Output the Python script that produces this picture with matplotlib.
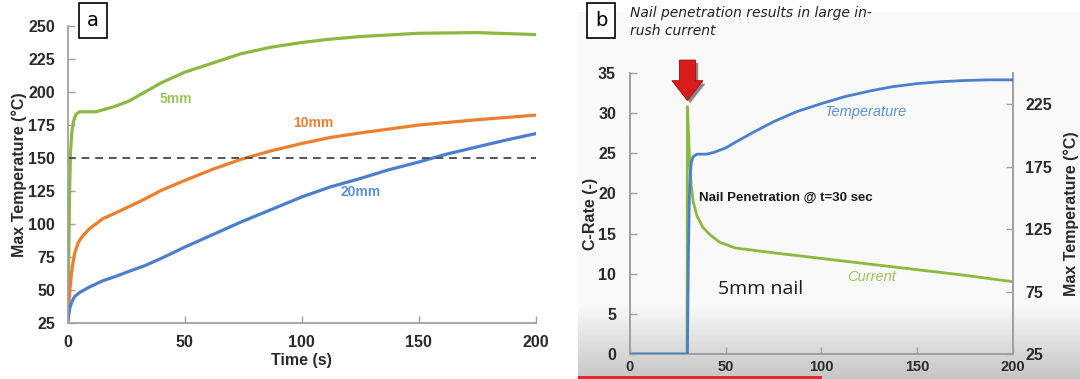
import numpy as np
import matplotlib
matplotlib.use("Agg")
import matplotlib.pyplot as plt
import matplotlib.patheffects as pe
from matplotlib.patches import Rectangle

# ---- panel a: max temperature vs time for three nail diameters ----
t_5mm = [0, 0.4, 0.8, 1.2, 1.8, 2.5, 3.5, 5, 8, 12, 16, 20, 26, 32, 40, 50,
         62, 74, 87, 100, 112, 125, 150, 175, 200]
temp_5mm = [28, 70, 125, 155, 170, 178, 183, 185, 185, 185, 187, 189, 193, 199,
            207, 215, 222, 229, 234, 237.5, 240, 242, 244.5, 245, 243.5]

t_10mm = [0, 0.5, 1, 2, 3, 4.5, 6, 9, 15, 20, 26, 33, 40, 50, 62, 74, 87,
          100, 112, 125, 150, 175, 200]
temp_10mm = [30, 40, 52, 68, 78, 86, 90, 96, 104, 108, 113, 119, 125.5, 133,
             141.5, 149, 155.5, 161, 165.5, 169, 175, 179, 182.5]

t_20mm = [0, 0.5, 1, 2, 3, 5, 9, 15, 20, 26, 33, 40, 50, 62, 74, 87, 100,
          112, 125, 137, 150, 162, 175, 187, 200]
temp_20mm = [25, 32, 37, 42, 45, 48, 52, 57, 60, 64, 68.5, 74, 82.5, 92, 101.5,
             111, 120.5, 128, 134.5, 141, 147, 153, 158.5, 163.5, 168.5]

threshold = 150

# ---- panel b: 5mm nail, C-rate and temperature ----
t_temp_b = [0, 30, 30.5, 31, 31.5, 32, 33, 35, 40, 44, 50, 55, 65, 75, 87,
            100, 112, 125, 137, 150, 162, 175, 187, 200]
temp_b = [25, 25, 100, 150, 168, 178, 183, 185, 185, 186.5, 190, 194.5, 203,
          211, 219, 225.5, 231, 235.5, 239, 241.5, 243, 244, 244.5, 244.5]

t_cur_b = [0, 29.8, 30, 31, 32, 33, 35, 38, 42, 47, 55, 75, 100, 125, 150,
           175, 200]
crate_b = [0, 0, 30.8, 25, 21, 19, 17.2, 15.8, 14.8, 13.9, 13.2, 12.6, 11.9,
           11.2, 10.5, 9.8, 9.0]

GREEN = "#8cb83f"
ORANGE = "#ee7d2e"
BLUE = "#4a7fd0"
SPINE = "#a0a0a0"
TICKTXT = "#2a2a2a"

plt.rcParams["font.family"] = ["Liberation Sans", "DejaVu Sans"]

fig = plt.figure(figsize=(10.8, 3.79), dpi=100)
fig.patch.set_facecolor("white")


def style_axes(ax, spines):
    for s in ["top", "right", "left", "bottom"]:
        ax.spines[s].set_visible(s in spines)
        ax.spines[s].set_color(SPINE)
        ax.spines[s].set_linewidth(1.3)
    ax.tick_params(direction="in", length=5, width=1, color=SPINE,
                   labelsize=11.5, labelcolor=TICKTXT)
    for lab in ax.get_xticklabels() + ax.get_yticklabels():
        lab.set_fontweight("bold")


# ---------------- panel a ----------------
ax = fig.add_axes([0.0627, 0.1478, 0.4336, 0.7836])
ax.set_facecolor("none")
ax.plot(t_5mm, temp_5mm, color=GREEN, lw=2.3, solid_capstyle="round")
ax.plot(t_10mm, temp_10mm, color=ORANGE, lw=2.3, solid_capstyle="round")
ax.plot(t_20mm, temp_20mm, color=BLUE, lw=2.3, solid_capstyle="round")
ax.axhline(threshold, color="#555555", lw=1.4, dashes=(4, 3))
ax.set_xlim(0, 200)
ax.set_ylim(25, 250)
ax.set_xticks([0, 50, 100, 150, 200])
ax.set_yticks(np.arange(25, 251, 25))
ax.tick_params(axis="x", pad=9)
ax.tick_params(axis="y", pad=9)
style_axes(ax, ["left", "bottom"])
ax.set_xlabel("Time (s)", fontsize=11.5, fontweight="bold", color=TICKTXT,
              labelpad=2)
ax.set_ylabel("Max Temperature (°C)", fontsize=11.5, fontweight="bold",
              color=TICKTXT, labelpad=1)
ax.text(46, 195, "5mm", color="#9cc25a", fontsize=10, fontweight="bold",
        ha="center", va="center")
ax.text(105, 176.5, "10mm", color=ORANGE, fontsize=10, fontweight="bold",
        ha="center", va="center")
ax.text(125, 124, "20mm", color="#5b8fdc", fontsize=10, fontweight="bold",
        ha="center", va="center")

# panel letter box "a"
fig.patches.append(Rectangle((79 / 1080, 1 - 38 / 379), 28 / 1080, 35 / 379,
                             transform=fig.transFigure, fc="white",
                             ec="black", lw=1.2))
fig.text(93 / 1080, 1 - 20.5 / 379, "a", fontsize=14, family="DejaVu Sans",
         ha="center", va="center")

# ---------------- panel b background (screen-capture look) ----------------
bg = fig.add_axes([578 / 1080, 0, 1 - 578 / 1080, 1 - 12 / 379], zorder=-5)
grad = np.ones((200, 2))
yy = np.linspace(0, 1, 200)[:, None]
shade = np.where(yy < 0.80, 0.975, 0.975 - (yy - 0.80) / 0.20 * 0.2)
bg.imshow(shade * grad, cmap="gray", vmin=0, vmax=1, aspect="auto",
          extent=[0, 1, 0, 1], origin="upper")
bg.set_axis_off()
fig.patches.append(Rectangle((578 / 1080, 0), (822 - 578) / 1080, 3 / 379,
                             transform=fig.transFigure, fc="#e8262a",
                             ec="none", zorder=5))

# ---------------- panel b ----------------
axb = fig.add_axes([0.5833, 0.0660, 0.3546, 0.7414])
axb.set_facecolor("none")
axb2 = axb.twinx()
axb2.plot(t_temp_b, temp_b, color=BLUE, lw=2.0, zorder=3)
axb.plot(t_cur_b, crate_b, color=GREEN, lw=2.0, zorder=2)
axb.set_xlim(0, 200)
axb.set_ylim(0, 35)
axb2.set_ylim(25, 250)
axb.set_xticks([0, 50, 100, 150, 200])
axb.set_yticks(np.arange(0, 36, 5))
axb2.set_yticks([25, 75, 125, 175, 225])
axb.tick_params(axis="x", pad=4)
axb.tick_params(axis="y", pad=10)
axb2.tick_params(axis="y", pad=9)
style_axes(axb, ["left", "bottom", "right"])
style_axes(axb2, ["left", "bottom", "right"])
axb.tick_params(axis="x", labelsize=10.5)
axb.set_ylabel("C-Rate (-)", fontsize=11.5, fontweight="bold",
               color=TICKTXT, labelpad=0)
axb2.set_ylabel("Max Temperature (°C)", fontsize=11.5, fontweight="bold",
                color=TICKTXT, labelpad=8)

axb2.text(123, 219, "Temperature", color="#5b8fdc", fontsize=10.5,
          style="italic", ha="center", va="center")
axb.text(126, 9.6, "Current", color="#9cc25a", fontsize=10.5,
         style="italic", ha="center", va="center")
axb.text(36, 19.5, "Nail Penetration @ t=30 sec", color="#1a1a1a",
         fontsize=9.5, fontweight="bold", ha="left", va="center")
axb.text(46, 8.1, "5mm nail", color="#1a1a1a", fontsize=14,
         family="Open Sans", ha="left", va="center")

# red arrow pointing at the current spike
axb.annotate("", xy=(30, 31.6), xytext=(30, 36.6), annotation_clip=False,
             arrowprops=dict(arrowstyle="simple,head_width=1.1,head_length=0.7,tail_width=0.58",
                             mutation_scale=20, fc="#d81b1b", ec="#b01010",
                             lw=0.5, shrinkA=0, shrinkB=0,
                             path_effects=[pe.withSimplePatchShadow(
                                 offset=(2, -2), shadow_rgbFace="#555555",
                                 alpha=0.7), pe.Normal()]))

# panel letter box "b" and heading
fig.patches.append(Rectangle((587 / 1080, 1 - 38 / 379), 28 / 1080, 35 / 379,
                             transform=fig.transFigure, fc="white",
                             ec="black", lw=1.2))
fig.text(601 / 1080, 1 - 20.5 / 379, "b", fontsize=14, family="DejaVu Sans",
         ha="center", va="center")
fig.text(630 / 1080, 1 - 22 / 379, "Nail penetration results in large in-\nrush current",
         fontsize=10, family="DejaVu Sans", style="italic", color="#222222",
         ha="left", va="center", linespacing=1.45)

fig.savefig("out.png", dpi=100, facecolor=fig.get_facecolor())
